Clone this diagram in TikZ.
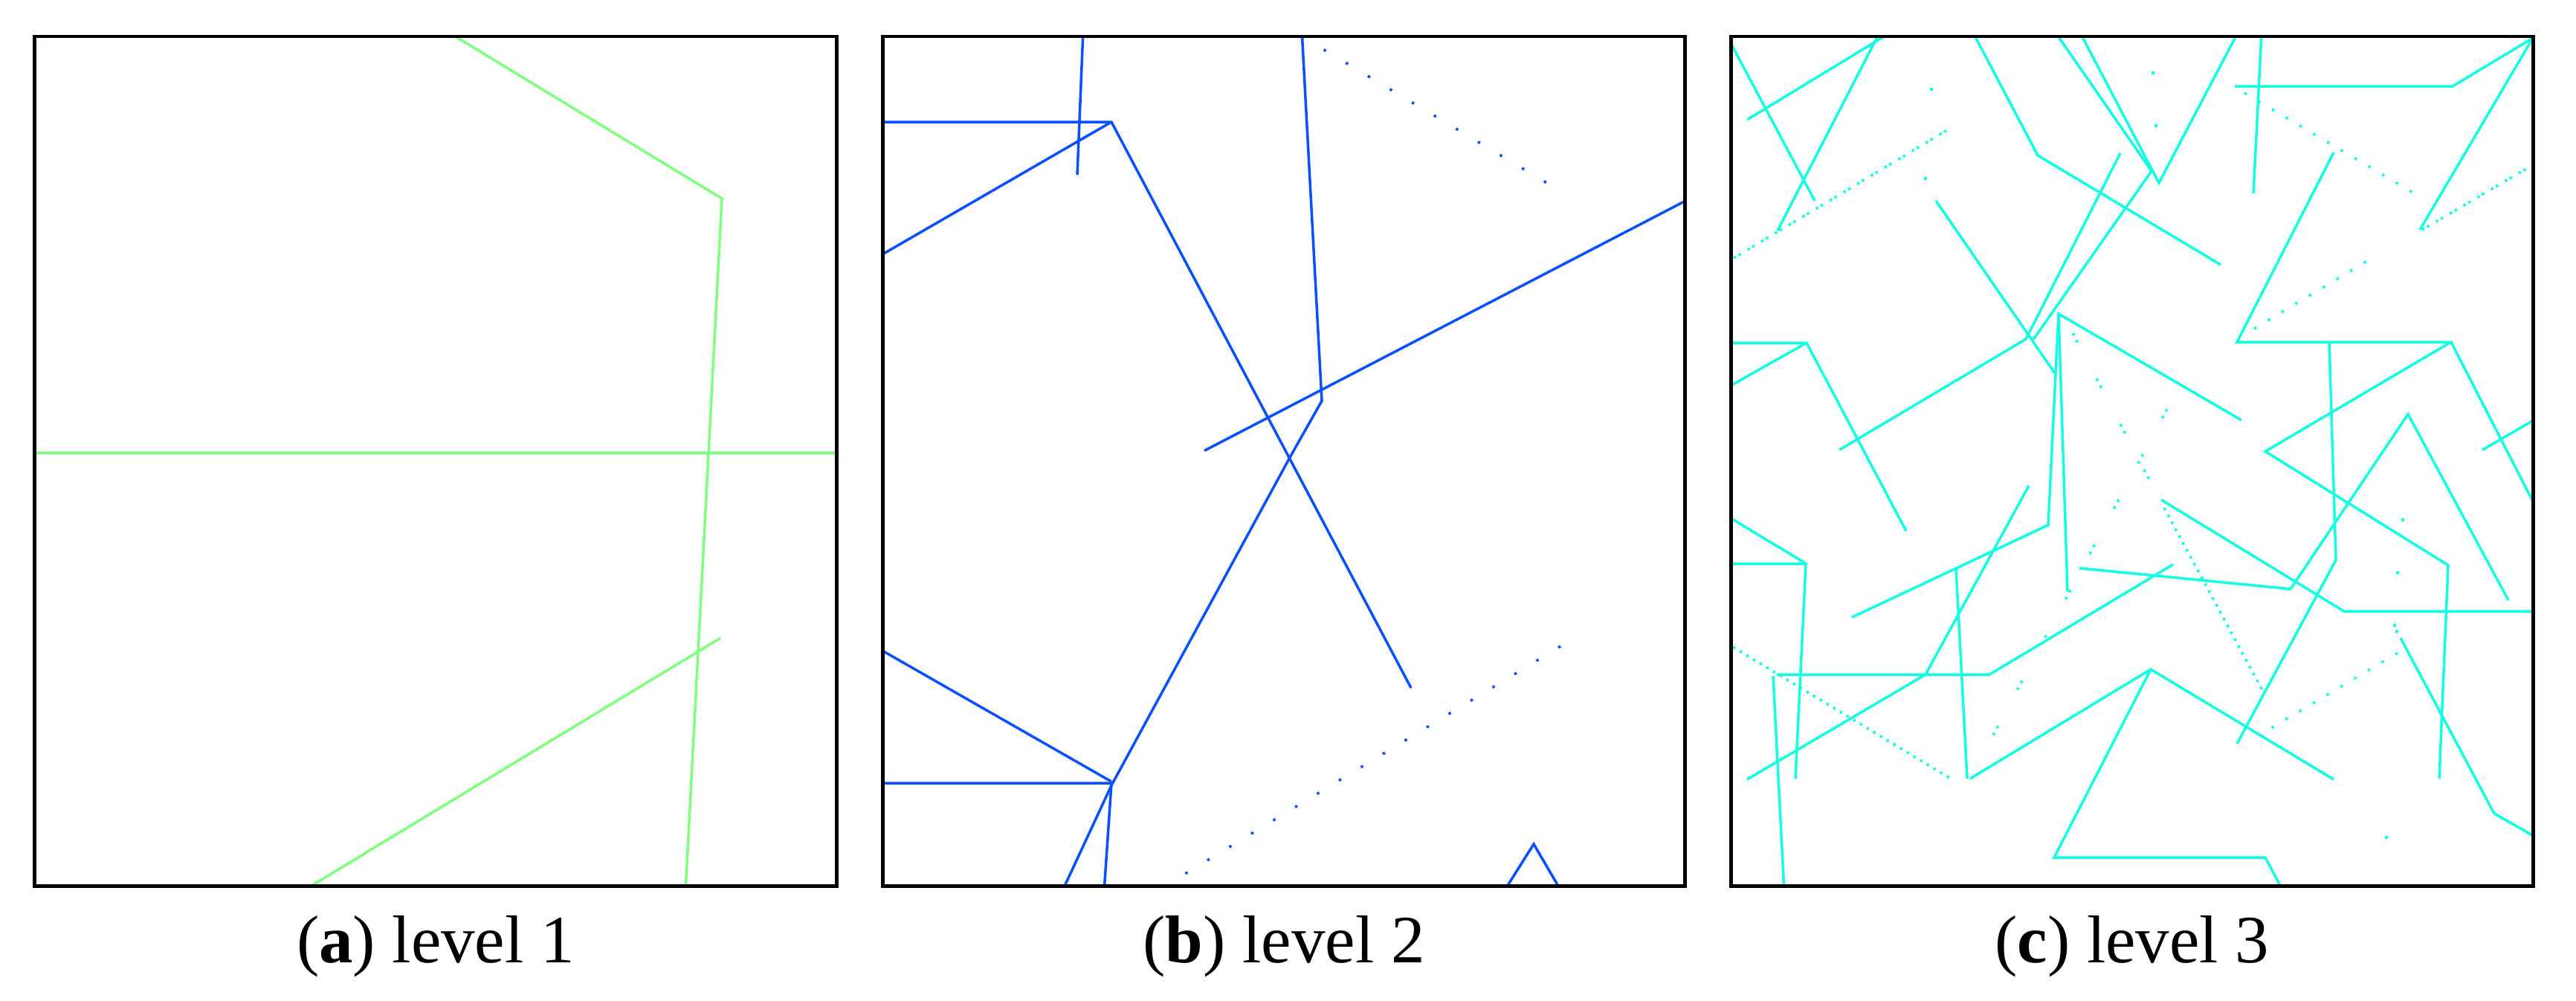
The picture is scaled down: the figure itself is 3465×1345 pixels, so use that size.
\documentclass[tikz,border=0pt]{standalone}
\usepackage{fontspec}
\setmainfont{Liberation Serif}
\definecolor{lvgreen}{RGB}{128,255,128}
\definecolor{lvblue}{RGB}{10,80,255}
\definecolor{lvcyan}{RGB}{20,255,225}
\begin{document}
\begin{tikzpicture}[x=1pt,y=-1pt,
  panelframe/.style={draw=black,line width=4.7pt},
  gline/.style={draw=lvgreen,line width=3.5pt},
  bline/.style={draw=lvblue,line width=3.5pt},
  bdots/.style={draw=lvblue,line width=3.5pt,dash pattern=on 3.5pt off 31pt},
  cline/.style={draw=lvcyan,line width=3.5pt},
  cdense/.style={draw=lvcyan,line width=3.5pt,dash pattern=on 3.5pt off 7pt},
  cdpair/.style={draw=lvcyan,line width=3.5pt,dash pattern=on 3.5pt off 4pt on 3.5pt off 10.5pt},
  csingle/.style={draw=lvcyan,line width=3.5pt,dash pattern=on 3.5pt off 18pt},
  cpairs/.style={draw=lvcyan,line width=3.5pt,dash pattern=on 3.5pt off 7pt on 3.5pt off 55pt},
  cdot/.style={fill=lvcyan},
  sublabel/.style={anchor=base,inner sep=0pt,font=\fontsize{91}{100}\selectfont}
]
\useasboundingbox (0,0) rectangle (3465,1345);

% ---------- panel (a) ----------
\begin{scope}
\clip (46.5,49) rectangle (1125.5,1191.5);
\draw[gline] (596,39) -- (971,267) -- (922,1200);
\draw[gline] (40,609) -- (1130,609);
\draw[gline] (404,1200) -- (969,858);
\end{scope}
\draw[panelframe] (46.5,49) rectangle (1125.5,1191.5);
\node[sublabel] (capa) at (586,1294) {(\textbf{a}) level 1};

% ---------- panel (b) ----------
\begin{scope}
\clip (1187.3,49) rectangle (2266.7,1191.5);
\draw[bline] (1457,40) -- (1449,235);
\draw[bline] (1180,164) -- (1495,164) -- (1898,925);
\draw[bline] (1180,346) -- (1495,164);
\draw[bline] (1751,40) -- (1778,539) -- (1735,615) -- (1495,1056) -- (1428,1200);
\draw[bdots] (1751,49) -- (2099,257);
\draw[bline] (1620,606) -- (2275,266);
\draw[bline] (1180,871) -- (1495,1051);
\draw[bline] (1180,1053) -- (1495,1053) -- (1485,1200);
\draw[bdots] (2099,869) -- (1571,1189);
\draw[bline] (2022,1200) -- (2063,1135) -- (2101,1200);
\end{scope}
\draw[panelframe] (1187.3,49) rectangle (2266.7,1191.5);
\node[sublabel] (capb) at (1727,1294) {(\textbf{b}) level 2};

% ---------- panel (c) ----------
\begin{scope}
\clip (2328.3,49) rectangle (3407.7,1191.5);
% top left
\draw[cline] (2328,58) -- (2441,270);
\draw[cline] (2350,161) -- (2536,48);
\draw[cline] (2391,310) -- (2527,46);
\draw[cdpair] (2332,347) -- (2624,172);
\fill[cdot] (2596,118) rectangle ++(3.5,3.5);
\fill[cdot] (2588,238) rectangle ++(3.5,3.5);
\draw[cline] (2654,44) -- (2741,209) -- (2987,356);
\draw[cline] (2765,44) -- (2894,230) -- (2734,458);
\draw[cline] (2798,44) -- (2904,246) -- (3011,42);
\draw[cline] (2604,270) -- (2764,502);
\draw[cline] (2474,605) -- (2725,456) -- (2852,206);
% left middle
\draw[cline] (2320,523) -- (2430,461);
\draw[cline] (2320,461) -- (2430,461) -- (2564,714);
\draw[cline] (2320,692) -- (2428,757);
\draw[cline] (2320,758) -- (2429,758) -- (2415,1047);
\draw[cline] (2491,830) -- (2755,706) -- (2769,422) -- (3015,565);
\draw[cline] (2769,422) -- (2781,795);
\draw[cline] (2631,764) -- (2646,1047);
\draw[cdense] (2331,870) -- (2624,1047);
\draw[cline] (2390,907) -- (2676,907) -- (2923,759);
\draw[cline] (2385,909) -- (2400,1200);
\draw[cline] (2350,1048) -- (2590,907) -- (2729,653);
% bottom middle
\draw[cline] (2650,1047) -- (2893,900) -- (3139,1048);
\draw[cline] (2893,900) -- (2763,1153) -- (3047,1153) -- (3072,1200);
\draw[cline] (2797,764) -- (3081,792) -- (3239,557) -- (3374,807);
\draw[cline] (3133,460) -- (3142,753) -- (3009,1000);
\draw[cline] (3295,461) -- (3047,607) -- (3293,760) -- (3281,1047);
\draw[cline] (2907,672) -- (3153,822) -- (3415,822);
\draw[cpairs] (2788,448) -- (2905,672);
\draw[cdense] (2911,683) -- (3043,928);
\draw[cpairs] (2915,550) -- (2672,1005);
\draw[csingle] (3225,878) -- (3050,982);
\draw[cline] (3229,858) -- (3355,1094) -- (3415,1128);
\fill[cdot] (3219,839) rectangle ++(3.5,3.5);
\fill[cdot] (3222,847) rectangle ++(3.5,3.5);
\fill[cdot] (3230,697) rectangle ++(3.5,3.5);
\fill[cdot] (3223,768) rectangle ++(3.5,3.5);
\fill[cdot] (3208,1124) rectangle ++(3.5,3.5);
% right
\draw[cline] (3339,605) -- (3415,561);
\draw[cline] (3042,44) -- (3031,260);
\draw[cline] (3006,116) -- (3299,116) -- (3407,51) -- (3255,309);
\draw[cdpair] (3258,309) -- (3398,227);
\draw[csingle] (3019,125) -- (3244,258);
\draw[cline] (3139,205) -- (3009,460) -- (3297,460) -- (3412,684);
\draw[csingle] (3032,442) -- (3184,351);
\fill[cdot] (2894,96) rectangle ++(3.5,3.5);
\fill[cdot] (2898,167) rectangle ++(3.5,3.5);
\end{scope}
\draw[panelframe] (2328.3,49) rectangle (3407.7,1191.5);
\node[sublabel] (capc) at (2868,1294) {(\textbf{c}) level 3};
\end{tikzpicture}
\end{document}
